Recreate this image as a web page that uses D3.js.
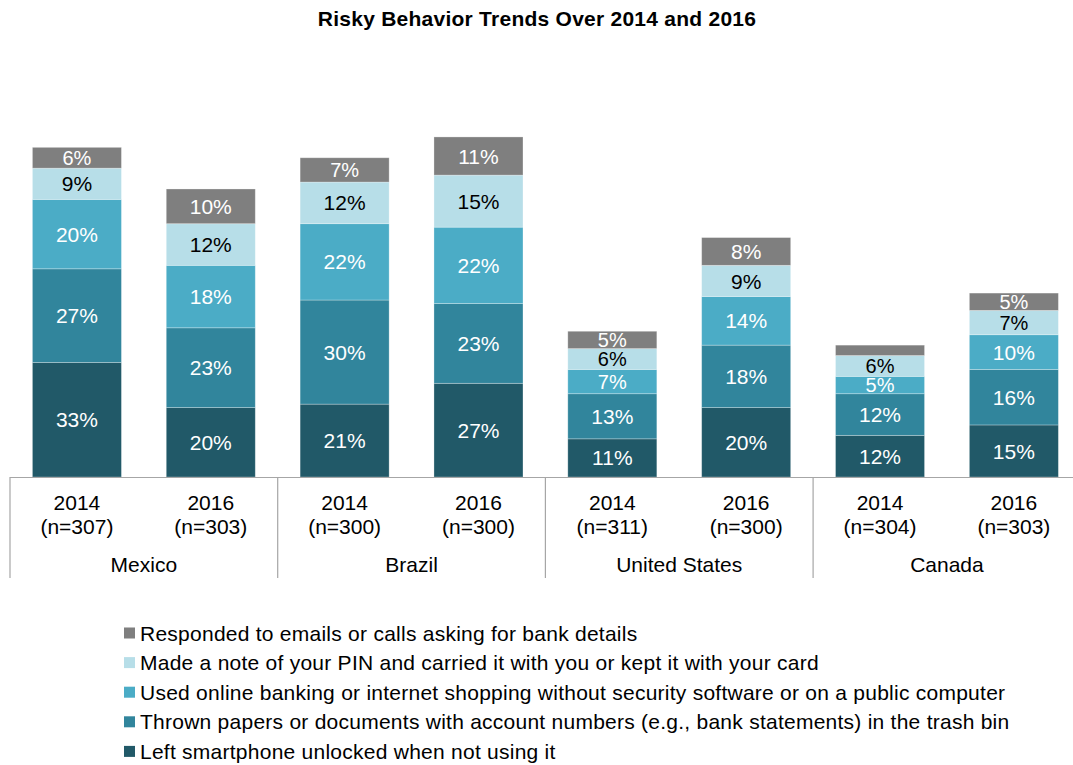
<!DOCTYPE html>
<html>
<head>
<meta charset="utf-8">
<script src="https://cdn.jsdelivr.net/npm/d3@7"></script>
<style>
  html, body { margin: 0; padding: 0; background: #fff; }
  svg { display: block; font-family: "Liberation Sans", Arial, sans-serif; }
</style>
</head>
<body>
<svg id="chart" width="1073" height="765"></svg>
<script>
// Survey groups: country, year and sample size
const countries = ["Mexico", "Brazil", "United States", "Canada"];
const years = ["2014", "2016"];
const sampleSizes = [[307, 303], [300, 300], [311, 300], [304, 303]];

// Behaviours, listed from the bottom of each stack to the top
const behaviours = [
  "Left smartphone unlocked when not using it",
  "Thrown papers or documents with account numbers (e.g., bank statements) in the trash bin",
  "Used online banking or internet shopping without security software or on a public computer",
  "Made a note of your PIN and carried it with you or kept it with your card",
  "Responded to emails or calls asking for bank details"
];

// Percentages per bar (Mexico 2014, Mexico 2016, Brazil 2014, ...), one array per behaviour
const smartphoneUnlocked = [33, 20, 21, 27, 11, 20, 12, 15];
const papersInTrash      = [27, 23, 30, 23, 13, 18, 12, 16];
const unsafeOnline       = [20, 18, 22, 22,  7, 14,  5, 10];
const pinNoted           = [ 9, 12, 12, 15,  6,  9,  6,  7];
const respondedToScams   = [ 6, 10,  7, 11,  5,  8,  3,  5];

const seriesValues = [smartphoneUnlocked, papersInTrash, unsafeOnline, pinNoted, respondedToScams];
const colors = ["#215968", "#31859c", "#4bacc6", "#b7dee8", "#7f7f7f"];
const labelColors = ["#fff", "#fff", "#fff", "#000", "#fff"];
const legendOrder = [4, 3, 2, 1, 0];

const svg = d3.select("#chart");
const baseY = 477;

// Bars: one band per country, two sub-bands per year
const x0 = d3.scaleBand().domain(countries).range([10, 1080.8]).padding(0);
const x1 = d3.scaleBand().domain(years).range([0, x0.bandwidth()]).paddingInner(0.335).paddingOuter(0.1675);
const y = d3.scaleLinear().domain([0, 100]).range([baseY, baseY - 347]);

const rows = [];
countries.forEach((c, ci) => years.forEach((yr, yi) => {
  const idx = ci * 2 + yi;
  const row = { country: c, year: yr, n: sampleSizes[ci][yi] };
  behaviours.forEach((b, bi) => { row[b] = seriesValues[bi][idx]; });
  rows.push(row);
}));

const stacked = d3.stack().keys(behaviours)(rows);

const plot = svg.append("g");
stacked.forEach((layer, li) => {
  const g = plot.append("g");
  layer.forEach((seg, i) => {
    const d = rows[i];
    const bx = x0(d.country) + x1(d.year);
    const top = y(seg[1]), bot = y(seg[0]);
    g.append("rect")
      .attr("x", bx).attr("y", top)
      .attr("width", x1.bandwidth()).attr("height", bot - top)
      .attr("fill", colors[li])
      .attr("stroke", "rgba(255,255,255,0.35)").attr("stroke-width", 0.8);
    const v = seg[1] - seg[0];
    if (v >= 4) {
      g.append("text")
        .attr("x", bx + x1.bandwidth() / 2)
        .attr("y", (top + bot) / 2)
        .attr("dy", "0.36em")
        .attr("text-anchor", "middle")
        .attr("font-size", v <= 7 ? 20 : 21)
        .attr("fill", labelColors[li])
        .text(v + "%");
    }
  });
});

// Category axis with group separators
const axis = svg.append("g").attr("stroke", "#a6a6a6").attr("stroke-width", 1.2);
axis.append("line").attr("x1", 10).attr("x2", 1073).attr("y1", baseY + 0.5).attr("y2", baseY + 0.5);
countries.concat(["end"]).forEach((c, i) => {
  const xx = (c === "end" ? x0.range()[1] : x0(c));
  axis.append("line").attr("x1", xx).attr("x2", xx).attr("y1", baseY).attr("y2", 578);
});

const labels = svg.append("g").attr("font-size", 21).attr("fill", "#000").attr("text-anchor", "middle");
rows.forEach(d => {
  const cx = x0(d.country) + x1(d.year) + x1.bandwidth() / 2;
  labels.append("text").attr("x", cx).attr("y", 510).text(d.year);
  labels.append("text").attr("x", cx).attr("y", 534).text("(n=" + d.n + ")");
});
countries.forEach(c => {
  labels.append("text").attr("x", x0(c) + x0.bandwidth() / 2).attr("y", 572).text(c);
});

// Title
svg.append("text")
  .attr("x", 537).attr("y", 26)
  .attr("text-anchor", "middle")
  .attr("font-size", 21).attr("font-weight", "bold")
  .attr("letter-spacing", 0.25)
  .text("Risky Behavior Trends Over 2014 and 2016");

// Legend
const legend = svg.append("g").attr("transform", "translate(124,633)");
legendOrder.forEach((bi, i) => {
  const gy = i * 29.6;
  legend.append("rect").attr("x", 0).attr("y", gy - 5.5).attr("width", 11).attr("height", 11).attr("fill", colors[bi]);
  legend.append("text").attr("x", 16).attr("y", gy).attr("dy", "0.36em")
    .attr("font-size", 21).attr("letter-spacing", 0.25).attr("fill", "#000").text(behaviours[bi]);
});
</script>
</body>
</html>
